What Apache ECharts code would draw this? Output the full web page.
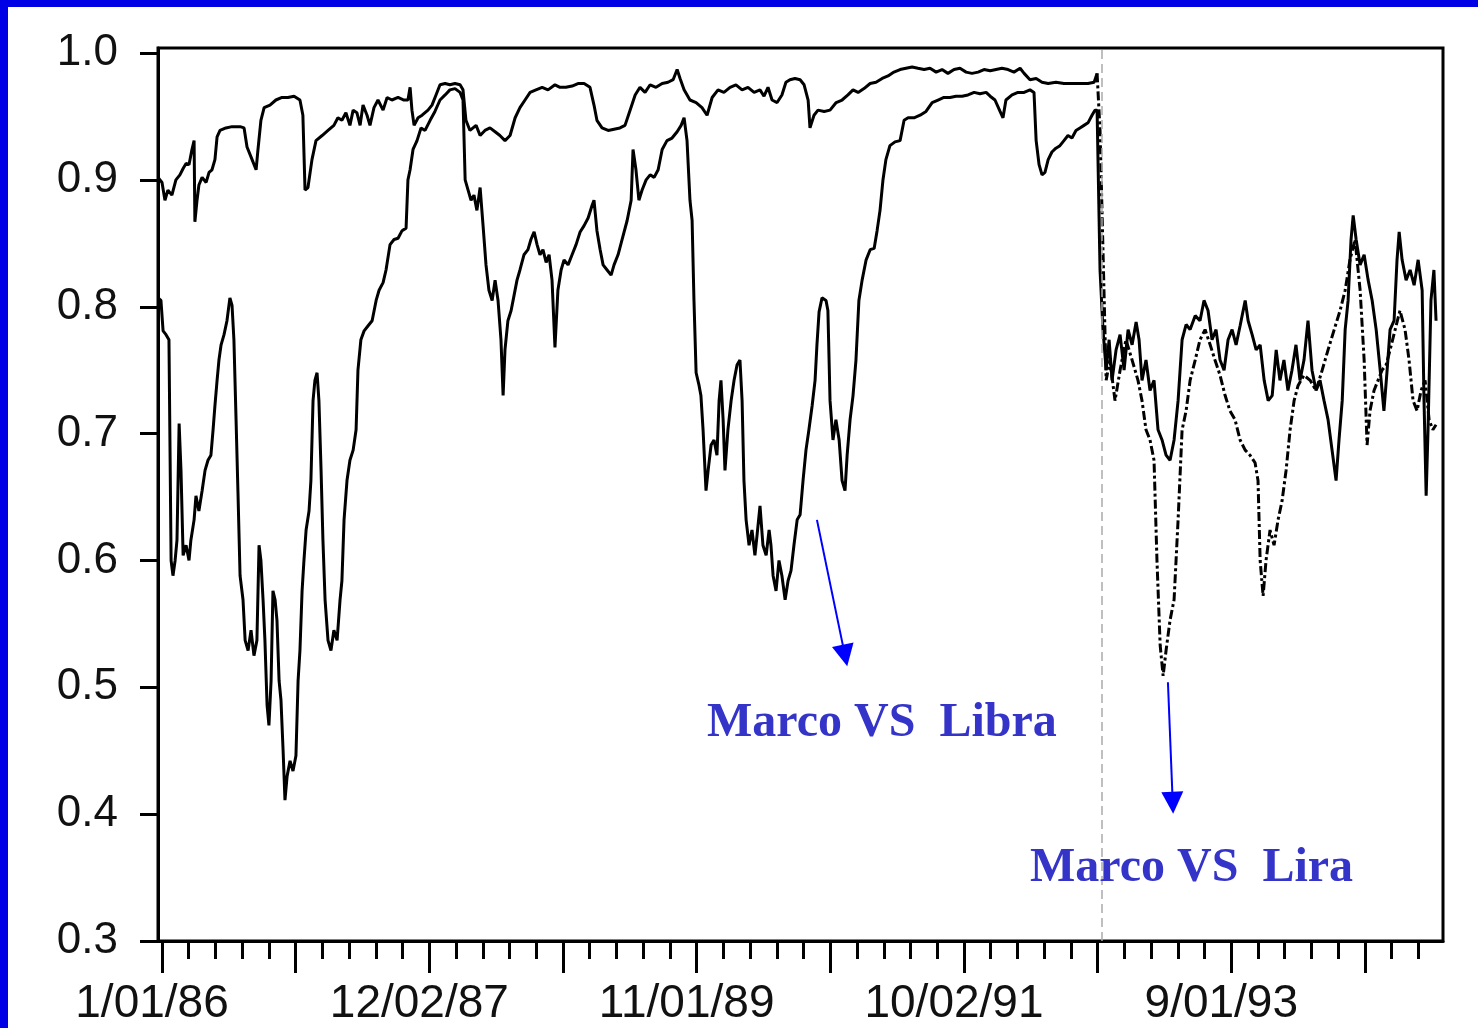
<!DOCTYPE html>
<html>
<head>
<meta charset="utf-8">
<script src="https://cdn.jsdelivr.net/npm/echarts@6/dist/echarts.min.js"></script>
<style>
html,body{margin:0;padding:0;background:#fff;}
#chart{width:1478px;height:1028px;}
</style>
</head>
<body>
<div id="chart"></div>
<script>
// x = week index counted from 1/01/86, y = correlation
const tickLabels = ['1/01/86', '12/02/87', '11/01/89', '10/02/91', '9/01/93'];
const labelWeeks = [0, 100, 200, 300, 400];
const majorWeeks = [0, 50, 100, 150, 200, 250, 300, 350, 400, 450];
const minorWeeks = [0, 10, 20, 30, 40, 50, 60, 70, 80, 90, 100, 110, 120, 130, 140, 150, 160, 170, 180, 190, 200,
  210, 220, 230, 240, 250, 260, 270, 280, 290, 300, 310, 320, 330, 340, 350, 360, 370, 380, 390, 400,
  410, 420, 430, 440, 450, 460, 470];
const yTicks = [0.3, 0.4, 0.5, 0.6, 0.7, 0.8, 0.9, 1.0];
const breakWeek = 351.6;

// Marco VS Lira before the break (solid)
const liraBefore = [[-1.5,0.902],[0,0.898],[1.1,0.884],[2.2,0.892],[3.7,0.888],[5.2,0.900],[6.7,0.904],[7.9,0.909],[9.0,0.913],[10.1,0.912],[11.2,0.924],[12.0,0.931],[12.3,0.867],[13.1,0.884],[13.8,0.896],[15.0,0.902],[16.5,0.898],[17.6,0.906],[18.7,0.908],[19.8,0.916],[20.6,0.934],[21.7,0.939],[23.9,0.941],[26.2,0.942],[29.2,0.942],[30.7,0.941],[31.8,0.926],[33.7,0.916],[35.2,0.908],[35.9,0.924],[37.0,0.947],[38.2,0.957],[40.4,0.959],[42.6,0.963],[44.9,0.965],[47.1,0.965],[49.4,0.966],[51.6,0.963],[52.7,0.951],[53.5,0.892],[54.6,0.894],[56.1,0.916],[57.6,0.931],[59.9,0.935],[62.1,0.939],[64.3,0.943],[65.8,0.949],[67.3,0.947],[68.8,0.953],[70.3,0.943],[71.5,0.955],[72.9,0.953],[74.1,0.943],[75.2,0.959],[76.7,0.951],[77.8,0.943],[79.3,0.957],[80.8,0.963],[82.7,0.955],[84.2,0.965],[86.0,0.963],[88.3,0.965],[90.5,0.963],[92.0,0.963],[92.8,0.973],[93.5,0.955],[94.3,0.943],[95.8,0.949],[97.3,0.951],[99.5,0.955],[101.0,0.959],[102.5,0.967],[104.0,0.975],[105.9,0.976],[107.7,0.975],[109.6,0.976],[111.5,0.975],[112.6,0.971],[113.7,0.947],[115.2,0.939],[117.5,0.943],[119.0,0.935],[120.8,0.939],[122.7,0.941],[124.6,0.938],[126.4,0.935],[128.3,0.931],[130.2,0.935],[132.1,0.949],[133.9,0.957],[135.8,0.963],[137.7,0.969],[139.9,0.971],[142.2,0.973],[144.4,0.971],[147.0,0.975],[148.9,0.973],[151.1,0.973],[153.4,0.974],[155.6,0.976],[157.9,0.976],[160.1,0.973],[161.6,0.959],[162.7,0.947],[164.6,0.941],[166.9,0.939],[169.1,0.940],[171.3,0.941],[173.2,0.943],[175.1,0.955],[177.0,0.967],[178.8,0.973],[180.7,0.969],[182.6,0.975],[184.8,0.973],[187.1,0.976],[189.3,0.977],[191.2,0.979],[192.7,0.987],[193.8,0.980],[195.3,0.971],[197.5,0.963],[199.8,0.961],[202.0,0.957],[203.9,0.951],[205.8,0.965],[208.0,0.971],[210.2,0.969],[212.5,0.973],[214.7,0.975],[217.0,0.971],[219.2,0.973],[221.5,0.969],[223.7,0.971],[225.2,0.966],[226.7,0.973],[228.2,0.963],[230.1,0.961],[231.9,0.967],[233.4,0.977],[234.9,0.979],[236.8,0.980],[238.7,0.979],[240.2,0.975],[241.7,0.963],[242.4,0.941],[243.9,0.951],[245.4,0.955],[247.7,0.954],[249.9,0.955],[252.2,0.961],[254.4,0.963],[256.6,0.967],[258.5,0.971],[260.4,0.969],[262.6,0.972],[264.9,0.976],[267.1,0.977],[269.4,0.980],[271.6,0.982],[273.8,0.985],[276.1,0.987],[278.3,0.988],[280.6,0.989],[282.8,0.988],[285.1,0.987],[287.3,0.988],[289.6,0.985],[291.8,0.987],[294.0,0.984],[296.3,0.987],[298.5,0.988],[300.8,0.985],[303.0,0.984],[305.3,0.985],[307.5,0.987],[309.8,0.986],[312.0,0.987],[314.2,0.988],[316.5,0.987],[318.7,0.985],[321.0,0.988],[322.5,0.984],[324.7,0.979],[327.0,0.980],[329.2,0.977],[331.5,0.976],[334.4,0.977],[337.4,0.976],[340.4,0.976],[343.4,0.976],[346.4,0.976],[348.7,0.977],[349.8,0.984]];

// Marco VS Lira after the break (dash-dot)
const liraAfter = [[349.8,0.984],[350.9,0.939],[352.0,0.845],[353.2,0.742],[354.6,0.758],[356.5,0.726],[358.4,0.750],[360.6,0.774],[362.9,0.758],[365.1,0.742],[366.6,0.726],[368.1,0.703],[369.6,0.695],[371.1,0.679],[372.2,0.600],[373.4,0.533],[374.5,0.509],[375.6,0.529],[377.1,0.553],[378.6,0.569],[380.1,0.632],[381.6,0.703],[383.1,0.718],[384.6,0.742],[386.5,0.758],[388.3,0.774],[390.2,0.782],[392.1,0.770],[393.9,0.758],[395.8,0.746],[397.7,0.730],[399.5,0.718],[401.4,0.711],[403.3,0.695],[405.2,0.687],[407.0,0.683],[408.9,0.677],[410.0,0.663],[410.8,0.600],[411.9,0.572],[413.0,0.600],[414.5,0.624],[416.0,0.612],[417.5,0.632],[419.0,0.647],[420.5,0.671],[422.0,0.703],[423.5,0.726],[425.0,0.738],[427.2,0.746],[429.5,0.742],[431.7,0.734],[434.0,0.750],[436.2,0.766],[438.5,0.782],[440.7,0.797],[442.6,0.813],[444.4,0.837],[446.3,0.853],[448.2,0.813],[449.7,0.758],[450.8,0.691],[451.9,0.718],[453.4,0.734],[454.9,0.742],[456.4,0.750],[457.9,0.754],[459.4,0.766],[461.3,0.782],[463.1,0.797],[465.0,0.782],[466.5,0.758],[468.0,0.726],[469.5,0.718],[471.0,0.734],[472.5,0.742],[474.0,0.711],[475.4,0.703],[476.6,0.707]];

// Marco VS Libra (solid)
const libra = [[-1.5,0.807],[-0.4,0.805],[0.4,0.781],[1.5,0.778],[2.6,0.774],[3.4,0.600],[4.1,0.588],[4.9,0.600],[5.6,0.616],[6.4,0.708],[7.1,0.671],[7.9,0.604],[9.0,0.612],[10.1,0.600],[10.8,0.616],[12.0,0.632],[12.7,0.651],[13.8,0.639],[15.0,0.655],[16.1,0.671],[17.2,0.679],[18.3,0.683],[19.1,0.703],[19.8,0.722],[20.6,0.742],[21.3,0.758],[22.1,0.770],[23.2,0.778],[24.3,0.789],[25.4,0.807],[26.2,0.801],[26.9,0.774],[27.7,0.711],[28.4,0.655],[29.2,0.588],[30.3,0.569],[31.1,0.537],[32.2,0.529],[33.3,0.545],[34.4,0.525],[35.5,0.537],[36.3,0.612],[37.0,0.600],[37.8,0.569],[38.5,0.537],[39.3,0.486],[40.0,0.470],[40.8,0.505],[41.5,0.576],[42.3,0.569],[43.0,0.553],[43.8,0.505],[44.5,0.490],[45.3,0.450],[46.0,0.411],[46.8,0.430],[47.9,0.442],[49.0,0.434],[50.1,0.446],[50.9,0.505],[51.6,0.529],[52.4,0.576],[53.1,0.600],[53.9,0.624],[55.0,0.639],[55.7,0.663],[56.5,0.726],[57.2,0.742],[58.0,0.748],[58.7,0.726],[59.5,0.671],[60.2,0.616],[61.0,0.569],[62.1,0.537],[63.2,0.529],[64.3,0.545],[65.5,0.537],[66.6,0.569],[67.3,0.584],[68.1,0.632],[69.2,0.663],[70.3,0.679],[71.5,0.687],[72.6,0.703],[73.3,0.750],[74.4,0.774],[75.6,0.781],[77.1,0.785],[78.6,0.789],[80.1,0.805],[81.2,0.813],[82.7,0.819],[83.8,0.829],[85.3,0.849],[86.8,0.853],[88.3,0.854],[89.8,0.860],[91.3,0.862],[92.0,0.900],[92.8,0.908],[93.9,0.924],[95.4,0.931],[96.9,0.941],[98.4,0.939],[100.3,0.947],[102.1,0.954],[104.0,0.963],[105.9,0.967],[107.7,0.971],[109.6,0.972],[111.5,0.969],[112.6,0.963],[113.4,0.900],[114.5,0.892],[115.6,0.884],[116.7,0.888],[117.8,0.876],[119.0,0.894],[120.1,0.864],[121.2,0.833],[122.3,0.813],[123.5,0.805],[124.6,0.821],[125.7,0.805],[126.8,0.774],[127.6,0.730],[128.3,0.766],[129.4,0.789],[130.6,0.797],[131.7,0.809],[132.8,0.821],[133.9,0.829],[135.4,0.841],[136.9,0.845],[138.0,0.853],[139.2,0.859],[140.3,0.849],[141.4,0.841],[142.5,0.845],[143.7,0.835],[144.8,0.841],[145.9,0.821],[147.0,0.768],[148.1,0.813],[149.3,0.829],[150.4,0.837],[151.9,0.833],[153.4,0.841],[154.9,0.849],[156.4,0.859],[157.9,0.864],[159.4,0.870],[160.9,0.880],[161.6,0.884],[162.7,0.860],[163.9,0.845],[165.0,0.833],[166.5,0.829],[168.0,0.825],[169.1,0.833],[170.6,0.841],[172.1,0.853],[174.0,0.868],[175.5,0.884],[176.2,0.924],[177.3,0.908],[178.4,0.884],[179.6,0.892],[181.1,0.900],[182.6,0.904],[184.1,0.902],[185.6,0.908],[187.1,0.924],[188.9,0.931],[190.8,0.933],[192.7,0.938],[194.2,0.943],[195.3,0.949],[196.4,0.931],[197.5,0.884],[198.3,0.868],[199.0,0.805],[199.8,0.748],[200.9,0.738],[201.6,0.730],[202.4,0.703],[203.5,0.655],[204.3,0.671],[205.4,0.691],[206.5,0.695],[207.6,0.683],[208.4,0.726],[209.1,0.742],[209.9,0.711],[210.6,0.671],[211.7,0.703],[212.9,0.726],[214.0,0.742],[215.1,0.754],[216.2,0.758],[217.0,0.726],[217.7,0.663],[218.5,0.632],[219.6,0.612],[220.7,0.624],[221.8,0.604],[222.6,0.620],[223.7,0.643],[224.8,0.612],[226.0,0.604],[227.1,0.624],[227.8,0.612],[228.6,0.588],[229.7,0.576],[230.8,0.600],[231.9,0.588],[233.1,0.569],[234.2,0.584],[235.3,0.592],[236.4,0.612],[237.6,0.632],[238.7,0.636],[239.8,0.663],[240.9,0.687],[242.0,0.703],[243.2,0.722],[244.3,0.742],[245.0,0.770],[245.8,0.796],[246.9,0.807],[248.4,0.805],[249.1,0.797],[249.9,0.726],[251.0,0.695],[252.1,0.711],[253.3,0.695],[254.4,0.663],[255.5,0.655],[256.3,0.683],[257.4,0.711],[258.5,0.730],[259.6,0.758],[260.7,0.805],[261.9,0.821],[263.4,0.837],[264.9,0.845],[266.4,0.846],[267.5,0.860],[268.6,0.876],[269.7,0.900],[270.8,0.916],[272.3,0.927],[274.2,0.930],[276.1,0.931],[277.6,0.947],[279.1,0.949],[281.3,0.949],[283.6,0.951],[285.8,0.954],[288.1,0.961],[290.3,0.963],[292.5,0.965],[294.8,0.965],[297.0,0.966],[299.3,0.966],[301.5,0.967],[303.8,0.969],[306.0,0.968],[308.3,0.969],[309.8,0.966],[311.6,0.963],[313.5,0.954],[314.6,0.949],[315.7,0.963],[318.0,0.967],[320.2,0.969],[322.5,0.969],[324.7,0.971],[326.2,0.969],[327.0,0.931],[328.1,0.912],[329.2,0.904],[330.3,0.906],[331.5,0.916],[332.9,0.922],[334.4,0.925],[335.9,0.927],[337.4,0.931],[338.9,0.935],[340.4,0.933],[341.9,0.939],[343.4,0.941],[344.9,0.943],[346.4,0.945],[347.9,0.951],[349.0,0.955],
  [349.8,0.955],[350.9,0.829],[352.0,0.782],[353.2,0.750],[354.3,0.774],[355.4,0.742],[356.9,0.766],[358.4,0.778],[359.9,0.750],[361.4,0.782],[362.9,0.770],[364.4,0.788],[365.5,0.774],[366.6,0.742],[368.1,0.758],[369.6,0.734],[371.1,0.742],[372.6,0.703],[374.1,0.695],[375.6,0.683],[377.1,0.679],[378.6,0.695],[380.1,0.726],[381.6,0.774],[383.1,0.786],[384.6,0.782],[386.5,0.793],[388.3,0.789],[389.8,0.805],[391.3,0.797],[392.8,0.774],[394.3,0.782],[395.8,0.758],[397.3,0.750],[398.8,0.774],[400.3,0.782],[401.8,0.770],[403.3,0.785],[405.2,0.805],[406.3,0.789],[407.8,0.778],[409.3,0.766],[410.8,0.770],[412.3,0.742],[413.8,0.726],[415.3,0.730],[416.8,0.766],[418.2,0.742],[419.7,0.758],[421.2,0.734],[422.7,0.750],[424.2,0.770],[425.7,0.742],[427.2,0.758],[428.7,0.789],[430.2,0.750],[431.7,0.734],[433.2,0.742],[434.7,0.726],[436.2,0.711],[437.7,0.687],[439.2,0.663],[440.3,0.695],[441.5,0.726],[442.6,0.782],[443.7,0.805],[444.8,0.853],[445.6,0.872],[446.7,0.853],[448.2,0.833],[449.7,0.841],[451.2,0.821],[452.7,0.805],[454.2,0.782],[455.7,0.750],[457.1,0.718],[458.3,0.750],[459.4,0.782],[460.9,0.789],[462.0,0.837],[462.8,0.859],[463.9,0.837],[465.4,0.821],[466.9,0.829],[468.4,0.817],[469.9,0.837],[471.4,0.813],[472.1,0.726],[472.9,0.651],[473.6,0.703],[474.7,0.805],[475.8,0.829],[476.6,0.789]];

// annotation arrows (start, end) in data coordinates
const libraArrow = [[245.0, 0.632], [255.5, 0.525]];
const liraArrow = [[376.3, 0.504], [378.1, 0.409]];

const chart = echarts.init(document.getElementById('chart'));
const axisFont = '"Liberation Sans", Arial, sans-serif';
const xBase = {
  type: 'value', min: -1.5, max: 479.2, position: 'bottom',
  splitLine: {show: false}
};
const lineBase = {type: 'line', showSymbol: false, symbol: 'none', silent: true, animation: false,
  lineStyle: {color: '#000', width: 3}, z: 3};

chart.setOption({
  animation: false,
  backgroundColor: '#fff',
  grid: {left: 158, top: 48, right: 35, bottom: 87, show: true, borderColor: '#000', borderWidth: 3,
    backgroundColor: 'transparent'},
  xAxis: [
    Object.assign({}, xBase, {
      axisLine: {show: true, onZero: false, lineStyle: {color: '#000', width: 3}},
      axisTick: {show: true, customValues: minorWeeks, length: 18, lineStyle: {color: '#000', width: 3}},
      axisLabel: {show: false}
    }),
    Object.assign({}, xBase, {
      axisLine: {show: false, onZero: false},
      axisTick: {show: true, customValues: majorWeeks, length: 32, lineStyle: {color: '#000', width: 3}},
      axisLabel: {show: true, customValues: labelWeeks, margin: 40, fontSize: 46, color: '#111',
        fontFamily: axisFont, padding: [0, 20, 0, 0],
        formatter: function (v) { const i = labelWeeks.indexOf(v); return i >= 0 ? tickLabels[i] : ''; }}
    })
  ],
  yAxis: {
    type: 'value', min: 0.3, max: 1.004, position: 'left',
    splitLine: {show: false},
    axisLine: {show: true, onZero: false, lineStyle: {color: '#000', width: 3}},
    axisTick: {show: true, customValues: yTicks, length: 18, lineStyle: {color: '#000', width: 3}},
    axisLabel: {show: true, customValues: yTicks, margin: 40, fontSize: 44, color: '#111', fontFamily: axisFont,
      formatter: function (v) { return v.toFixed(1); }}
  },
  series: [
    Object.assign({}, lineBase, {name: 'Marco VS Lira', data: liraBefore}),
    Object.assign({}, lineBase, {name: 'Marco VS Lira (after)', data: liraAfter,
      lineStyle: {color: '#000', width: 3, type: [9, 3, 3, 3]},
      markLine: {silent: true, symbol: ['none', 'none'], label: {show: false}, animation: false,
        lineStyle: {color: '#aaa', type: [9, 5], width: 1.5},
        data: [{xAxis: breakWeek}]}}),
    Object.assign({}, lineBase, {name: 'Marco VS Libra', data: libra,
      markLine: {silent: true, symbol: ['none', 'triangle'], symbolSize: 22, label: {show: false}, animation: false,
        lineStyle: {color: '#0000ff', type: 'solid', width: 2},
        itemStyle: {color: '#0000ff'},
        data: [
          [{coord: libraArrow[0]}, {coord: libraArrow[1]}],
          [{coord: liraArrow[0]}, {coord: liraArrow[1]}]
        ]}})
  ],
  graphic: [
    {type: 'text', x: 707, y: 724, z: 10, style: {text: 'Marco VS  Libra', font: 'bold 48px "Liberation Serif", "Times New Roman", serif',
      fill: '#3434C9', align: 'left', verticalAlign: 'middle'}},
    {type: 'text', x: 1030, y: 869, z: 10, style: {text: 'Marco VS  Lira', font: 'bold 48px "Liberation Serif", "Times New Roman", serif',
      fill: '#3434C9', align: 'left', verticalAlign: 'middle'}},
    {type: 'rect', z: 20, shape: {x: 0, y: 0, width: 8, height: 1028}, style: {fill: '#0000e6'}},
    {type: 'rect', z: 20, shape: {x: 0, y: 0, width: 1478, height: 7}, style: {fill: '#0000e6'}}
  ]
});
</script>
</body>
</html>
